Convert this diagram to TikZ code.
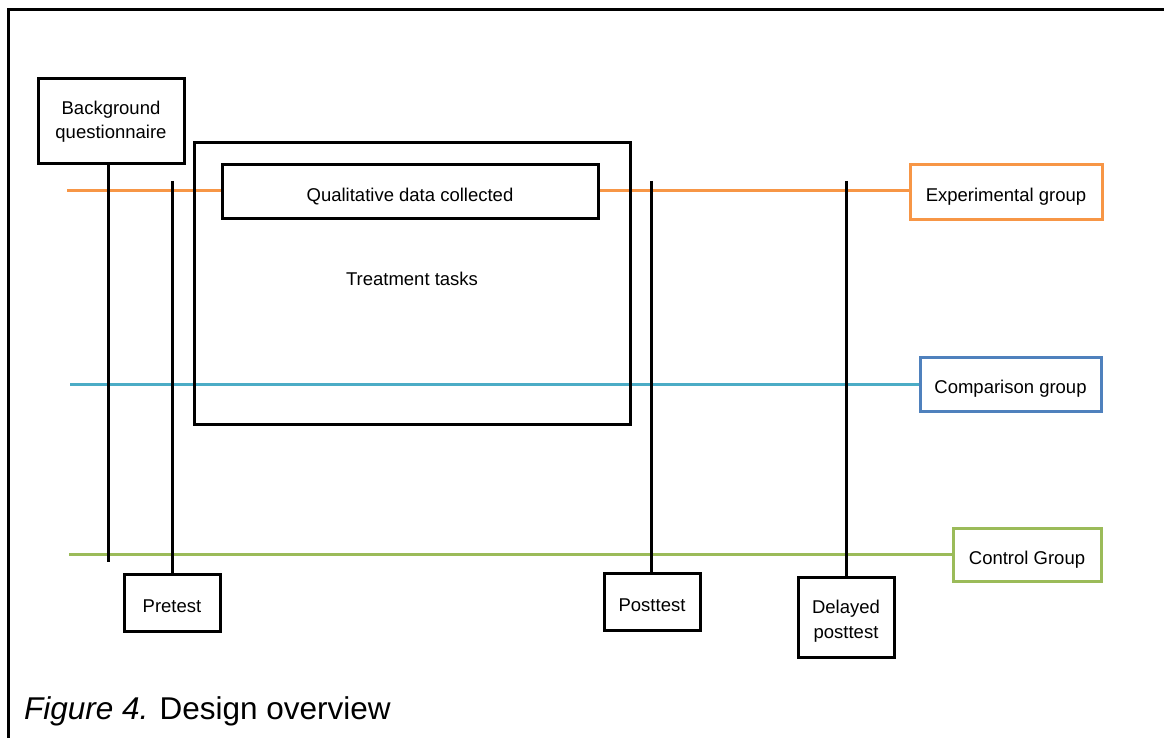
\documentclass[tikz,border=0pt]{standalone}
\usepackage{fontspec}
\setmainfont{Liberation Sans}
\definecolor{orangeC}{HTML}{F79646}
\definecolor{blueBox}{HTML}{4F81BD}
\definecolor{blueLine}{HTML}{4BACC6}
\definecolor{greenC}{HTML}{9BBB59}
\newcommand{\boxtxt}[1]{\rule{0pt}{19.2pt}\smash{#1}}
\begin{document}
\begin{tikzpicture}[x=1pt,y=-1pt,
  lbl/.style={font=\fontsize{18.5}{24.5}\selectfont},
  box/.style={lbl,draw=black,line width=3pt,fill=white,inner sep=0pt,align=center},
  gbox/.style={lbl,draw,line width=3pt,fill=white,inner sep=0pt,align=center},
  vline/.style={draw=black,line width=3pt},
  hline/.style={line width=3pt}]
\useasboundingbox (0,0) rectangle (1164,738);
% frame (top and left edges only visible)
\draw[line width=3pt] (8,738) -- (8,10) -- (1164,10);
% coordinates
\coordinate (eL) at (67,191);
\coordinate (cL) at (70,384);
\coordinate (gL) at (69,554);
\coordinate (bqEnd) at (108,562);
\coordinate (preTop) at (172,181);
\coordinate (postTop) at (651,181);
\coordinate (delTop) at (846,181);
% boxes
\node[gbox,draw=orangeC,minimum width=192,minimum height=54] (exp) at (1006,192) {\boxtxt{Experimental group}};
\node[gbox,draw=blueBox,minimum width=181,minimum height=54] (comp) at (1010.5,384) {\boxtxt{Comparison group}};
\node[gbox,draw=greenC,minimum width=148,minimum height=53] (ctrl) at (1027,554.5) {\boxtxt{Control Group}};
% horizontal group lines
\draw[hline,orangeC] (eL) -- (exp.west |- eL);
\draw[hline,blueLine] (cL) -- (comp.west);
\draw[hline,greenC] (gL) -- (ctrl.west |- gL);
% treatment box
\node[draw=black,line width=3pt,inner sep=0pt,minimum width=436,minimum height=281] (treat) at (412,283.5) {};
\node[lbl] (treatlbl) at (412,279) {Treatment tasks};
\node[box,minimum width=376,minimum height=53] (qual) at (410,191.5) {\boxtxt{Qualitative data collected}};
% test boxes
\node[box,minimum width=146,minimum height=85] (bq) at (111,121.5) {Background\\questionnaire};
\node[box,minimum width=96,minimum height=57] (pre) at (172,602.5) {\boxtxt{Pretest}};
\node[box,minimum width=96,minimum height=57] (post) at (652,601.5) {\boxtxt{Posttest}};
\node[box,minimum width=96,minimum height=80] (del) at (846,617) {\raisebox{-8.6pt}[0pt][0pt]{\fontsize{18.5}{25}\selectfont\begin{tabular}{@{}c@{}}Delayed\\posttest\end{tabular}}};
% vertical lines
\draw[vline] (bq.south -| bqEnd) -- (bqEnd);
\draw[vline] (preTop) -- (pre.north);
\draw[vline] (postTop) -- (postTop |- post.north);
\draw[vline] (delTop) -- (del.north);
% caption
\node[anchor=base west,inner sep=0pt,font=\fontsize{31.5}{36}\selectfont] (cap) at (24,719) {\textit{Figure 4.}\hspace{11pt}Design overview};
\end{tikzpicture}
\end{document}
